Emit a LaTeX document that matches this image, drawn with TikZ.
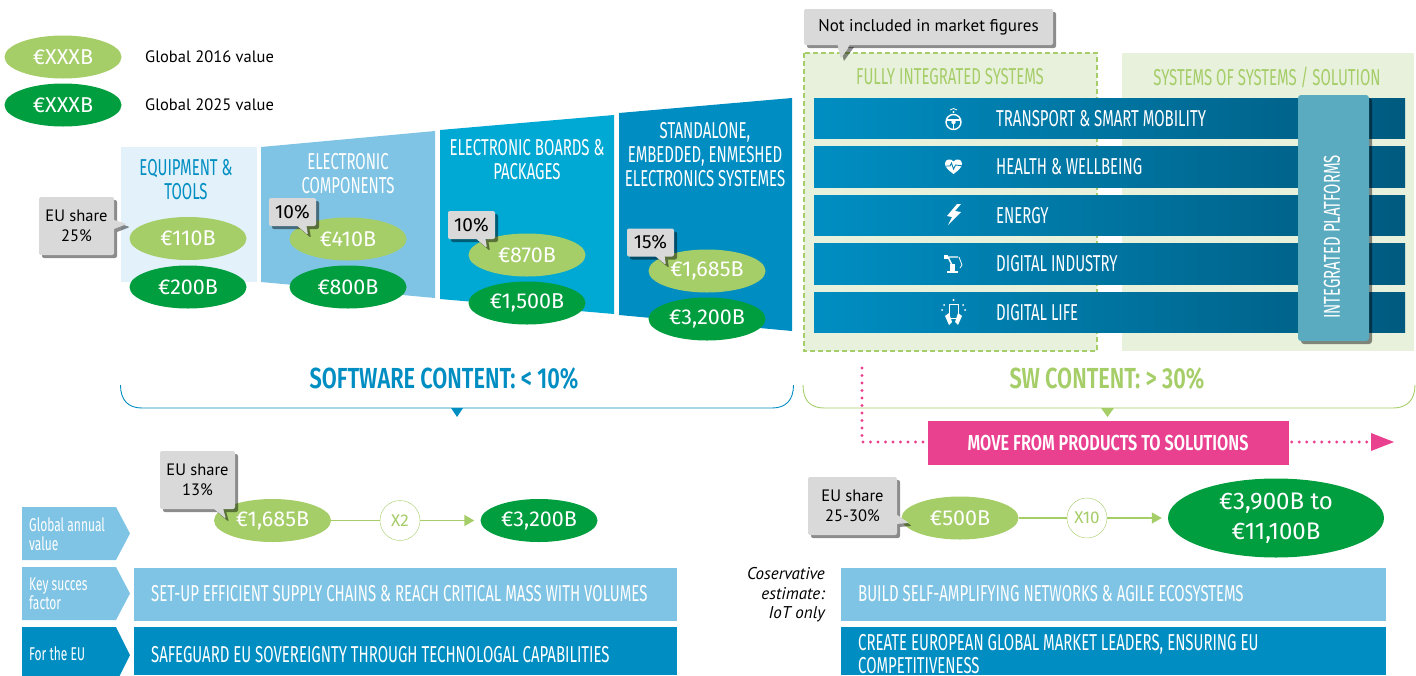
\documentclass[tikz,border=0pt]{standalone}
\usepackage{fontspec}
\usepackage{xcolor}
\usetikzlibrary{shapes.geometric, shapes.callouts, shadows, arrows.meta}
\setmainfont{PT Sans}
\newfontfamily\dinfont[FakeStretch=0.65]{Fira Sans}
\newfontfamily\dinbold[FakeStretch=0.75]{Fira Sans SemiBold}
\newfontfamily\valfont{Fira Sans}
\definecolor{oldgreen}{HTML}{A5CD68}
\definecolor{newgreen}{HTML}{009E3F}
\definecolor{paleblue}{HTML}{E3F1FA}
\definecolor{lightblue}{HTML}{7FC4E4}
\definecolor{midblue}{HTML}{00A9D4}
\definecolor{deepblue}{HTML}{008EC2}
\definecolor{darkblue}{HTML}{005A7F}
\definecolor{palegreen}{HTML}{E8F1DC}
\definecolor{platform}{HTML}{5BABC0}
\definecolor{notegray}{HTML}{D9D9D9}
\definecolor{movepink}{HTML}{EA4090}
\tikzset{
  valold/.style={ellipse, fill=oldgreen, text=white, minimum width=117pt, minimum height=43pt, inner sep=0pt, font=\valfont\fontsize{21.5}{26}\selectfont},
  valnew/.style={valold, fill=newgreen},
  softshadow/.style={drop shadow={shadow xshift=3pt, shadow yshift=-3pt, opacity=.45, fill=black}},
  notebox/.style={rectangle callout, fill=notegray, rounded corners=2pt, callout pointer width=9pt, inner sep=0pt, align=center, text=black, font=\fontsize{16.5}{20}\selectfont, softshadow},
  pctbox/.style={notebox, minimum width=47pt, minimum height=28pt, font=\valfont\fontsize{19}{20}\selectfont},
  plaintext/.style={anchor=west, inner sep=0pt, font=\fontsize{16.5}{20}\selectfont},
  headtext/.style={inner sep=0pt, align=center, text=white, yshift=-1pt, font=\dinfont\fontsize{23}{24}\selectfont},
  barlabel/.style={anchor=west, inner sep=0pt, align=left, text=white, yshift=-1pt, font=\dinfont\fontsize{23}{24}\selectfont},
  taglabel/.style={anchor=west, inner sep=0pt, align=left, text=white, font=\dinfont\fontsize{18.5}{19}\selectfont},
  timesnode/.style={circle, draw=oldgreen, fill=white, text=oldgreen, minimum size=40pt, inner sep=0pt, font=\valfont\fontsize{17}{20}\selectfont},
  flowline/.style={draw=oldgreen, line width=1.5pt},
  flowarrow/.style={flowline, -{Triangle[length=10pt,width=11pt]}, shorten >=6pt},
  moveline/.style={draw=movepink, line width=3.4pt, line cap=round, dash pattern=on 0pt off 7.5pt},
  iconline/.style={draw=white, line width=1.4pt},
}
\begin{document}
\begin{tikzpicture}[x=1pt,y=-1pt]
\useasboundingbox (0,0) rectangle (1416,675);

\node[valold] (legendold) at (63,57) {€XXXB};
\node[valnew] (legendnew) at (63,105) {€XXXB};
\node[plaintext] (legendoldtext) at (145,57) {Global 2016 value};
\node[plaintext] (legendnewtext) at (145,104.5) {Global 2025 value};

\fill[paleblue] (121,147) rectangle (257,282);
\fill[lightblue] (261,147) -- (435,131) -- (435,298) -- (261,282) -- cycle;
\fill[midblue] (440,130) -- (614,115) -- (614,314) -- (440,299) -- cycle;
\fill[deepblue] (619,113) -- (792,98) -- (792,331) -- (619,315) -- cycle;

\node[headtext, text=deepblue] (equiphead) at (186,179) {EQUIPMENT \&\\TOOLS};
\node[headtext] (comphead) at (348,173) {ELECTRONIC\\COMPONENTS};
\node[headtext] (boardhead) at (527,159) {ELECTRONIC BOARDS \&\\PACKAGES};
\node[headtext] (syshead) at (705,154) {STANDALONE,\\EMBEDDED, ENMESHED\\ELECTRONICS SYSTEMES};

\node[valold] (equipold) at (188,238.5) {€110B};
\node[valnew] (equipnew) at (188,287) {€200B};
\node[valold] (compold) at (348,239) {€410B};
\node[valnew] (compnew) at (348,287) {€800B};
\node[valold] (boardold) at (527,255) {€870B};
\node[valnew] (boardnew) at (527,303) {€1,500B};
\node[valold] (sysold) at (707,271) {€1,685B};
\node[valnew] (sysnew) at (707,319) {€3,200B};

\node[notebox, minimum width=75pt, minimum height=58pt, callout absolute pointer={(127,224)}] (equipnote) at (76.5,226) {EU share\\25\%};
\node[pctbox, callout absolute pointer={(308,235)}] (compnote) at (292.5,212) {10\%};
\node[pctbox, callout absolute pointer={(487,248)}] (boardnote) at (471.5,225) {10\%};
\node[pctbox, callout absolute pointer={(666,265)}] (sysnote) at (650.5,242.5) {15\%};

\fill[palegreen] (1122,53) rectangle (1414,351);
\draw[fill=palegreen, draw=oldgreen, line width=1.3pt, dash pattern=on 5pt off 3pt] (804,53) rectangle (1097,351);
\node[headtext, text=oldgreen] (fullyhead) at (950,76) {FULLY INTEGRATED SYSTEMS};
\node[headtext, text=oldgreen] (sossyshead) at (1267,76) {SYSTEMS OF SYSTEMS / SOLUTION};
\fill[notegray, softshadow] (837,44) -- (851,44) -- (841,58) -- cycle;
\node[fill=notegray, rounded corners=2pt, minimum width=249pt, minimum height=36pt, inner sep=0pt, font=\fontsize{17}{20}\selectfont, softshadow] (marketnote) at (928.5,27) {Not included in market figures};
\fill[notegray] (837,43) -- (851,43) -- (841,58) -- cycle;

\shade[left color=deepblue, right color=darkblue] (814,98) rectangle (1405,138);
\shade[left color=deepblue, right color=darkblue] (814,146) rectangle (1405,187);
\shade[left color=deepblue, right color=darkblue] (814,195) rectangle (1405,235);
\shade[left color=deepblue, right color=darkblue] (814,243) rectangle (1405,284);
\shade[left color=deepblue, right color=darkblue] (814,292) rectangle (1405,332);

\node[barlabel] (transport) at (996,118) {TRANSPORT \& SMART MOBILITY};
\node[barlabel] (health) at (996,166) {HEALTH \& WELLBEING};
\node[barlabel] (energy) at (996,215) {ENERGY};
\node[barlabel] (industry) at (996,263) {DIGITAL INDUSTRY};
\node[barlabel] (life) at (996,312) {DIGITAL LIFE};

\draw[iconline] (953.5,122) circle (7.5pt);
\fill[white] (953.5,122) circle (2.2pt);
\draw[iconline] (946.5,120) -- (960.5,120);
\draw[iconline] (953.5,122) -- (953.5,129);
\draw[draw=white, line width=.8pt] (950,110) .. controls (952,108) and (955,108) .. (957,110);
\fill[white] (953.5,112) circle (1.2pt);

\fill[white] (953.5,174) .. controls (948,170) and (945,167) .. (945,163.5) .. controls (945,159) and (951,158) .. (953.5,161.5) .. controls (956,158) and (962,159) .. (962,163.5) .. controls (962,167) and (959,170) .. cycle;
\draw[draw=deepblue!70!darkblue, line width=.9pt] (946,166) -- (950,166) -- (951.5,163) -- (953.5,169) -- (955.5,165) -- (964,166);

\fill[white] (957,204) -- (947,216) -- (952,217) -- (948,225) -- (961,212) -- (955,211) -- (961,204) -- cycle;

\fill[white] (947,271) rectangle (958,273);
\fill[white] (950,264) rectangle (955,271);
\draw[iconline] (952,265) -- (948,257) -- (958,257);
\fill[white] (944,255) rectangle (948,259);
\draw[draw=white, line width=.8pt] (959,257) -- (962,265) -- (960,268);

\draw[draw=white, line width=1pt] (949,304) rectangle (958,318);
\fill[white] (945,316) -- (949,313) -- (952,322) -- (949,325) -- cycle;
\fill[white] (962,316) -- (958,313) -- (955,322) -- (958,325) -- cycle;
\fill[white] (953.5,300) circle (1.2pt);
\fill[white] (942,310) circle (1pt);
\fill[white] (965,310) circle (1pt);
\fill[white] (944,305) circle (1pt);
\fill[white] (963,305) circle (1pt);

\node[fill=platform, rounded corners=3pt, minimum width=71pt, minimum height=246pt, inner sep=0pt, softshadow] (platformbar) at (1333.5,218) {};
\node[headtext, rotate=90, xshift=1pt, yshift=1pt] (platformtext) at (1333,237) {INTEGRATED PLATFORMS};

\node[inner sep=0pt, text=deepblue, font=\dinbold\fontsize{29}{30}\selectfont] (softhead) at (444,378.5) {SOFTWARE CONTENT: < 10\%};
\node[inner sep=0pt, text=oldgreen, font=\dinbold\fontsize{29}{30}\selectfont] (swhead) at (1107,378.5) {SW CONTENT: > 30\%};

\draw[deepblue, line width=.9pt] (120.5,385) .. controls (120.5,400) and (128,408) .. (142,408) -- (772,408) .. controls (786,408) and (793.5,400) .. (793.5,385);
\fill[deepblue] (451,408) -- (463,408) -- (457,417) -- cycle;
\draw[oldgreen, line width=.9pt] (803,385) .. controls (803,400) and (810,408) .. (824,408) -- (1393,408) .. controls (1407,408) and (1415,400) .. (1415,385);
\fill[oldgreen] (1101,408) -- (1114,408) -- (1107.5,417) -- cycle;

\node[fill=movepink, minimum width=361pt, minimum height=44pt, inner sep=0pt, text=white, font=\dinbold\fontsize{21.7}{24}\selectfont] (movebox) at (1108,443) {MOVE FROM PRODUCTS TO SOLUTIONS};
\coordinate (movestart) at (862,368);
\coordinate (movecorner) at (862,442);
\coordinate (moveend) at (1394,442);
\draw[moveline] (movestart) -- (movecorner) -- (movebox.west |- movecorner);
\draw[moveline] (movebox.east |- moveend) ++(3,0) -- ++(82,0);
\fill[movepink] (1371,433) -- (moveend) -- (1371,451) -- cycle;

\fill[lightblue] (22,507) -- (116,507) -- (130,533.5) -- (116,560) -- (22,560) -- cycle;
\fill[lightblue] (22,567) -- (116,567) -- (130,593.5) -- (116,620) -- (22,620) -- cycle;
\fill[deepblue] (22,627) -- (116,627) -- (130,655) -- (116,683) -- (22,683) -- cycle;
\node[taglabel] (annualtag) at (29,534) {Global annual\\value};
\node[taglabel] (succestag) at (29,594) {Key succes\\factor};
\node[taglabel] (eutag) at (29,654) {For the EU};

\node[valold] (lowold) at (272.5,520.5) {€1,685B};
\node[valnew] (lownew) at (539,520.5) {€3,200B};
\node[timesnode] (lowtimes) at (400,520.5) {X2};
\draw[flowline] (lowold) -- (lowtimes);
\draw[flowarrow] (lowtimes) -- (lownew);
\node[notebox, minimum width=75pt, minimum height=58pt, callout absolute pointer={(226,519)}] (lownote) at (197.5,480) {EU share\\13\%};

\fill[lightblue] (134,568) rectangle (677,621);
\fill[deepblue] (134,627) rectangle (677,675);
\node[barlabel] (chains) at (151,593) {SET-UP EFFICIENT SUPPLY CHAINS \& REACH CRITICAL MASS WITH VOLUMES};
\node[barlabel] (sovereign) at (151,654) {SAFEGUARD EU SOVEREIGNTY THROUGH TECHNOLOGAL CAPABILITIES};

\node[valold] (highold) at (960,518) {€500B};
\node[valnew, minimum width=216pt, minimum height=79pt, font=\valfont\fontsize{24}{30}\selectfont, align=center] (highnew) at (1276,518) {€3,900B to\\€11,100B};
\node[timesnode] (hightimes) at (1087,518) {X10};
\draw[flowline] (highold) -- (hightimes);
\draw[flowarrow] (hightimes) -- (highnew);
\node[notebox, minimum width=89pt, minimum height=58pt, callout absolute pointer={(909,523)}] (highnote) at (852.5,506) {EU share\\25-30\%};

\node[anchor=east, inner sep=0pt, align=right, font=\itshape\fontsize{17}{19.5}\selectfont] (estimate) at (825,595) {Coservative\\estimate:\\IoT only};
\fill[lightblue] (841,568) rectangle (1386,621);
\fill[deepblue] (841,627) rectangle (1386,675);
\node[barlabel] (networks) at (858,593) {BUILD SELF-AMPLIFYING NETWORKS \& AGILE ECOSYSTEMS};
\node[barlabel, font=\dinfont\fontsize{23}{22.5}\selectfont] (leaders) at (858,653) {CREATE EUROPEAN GLOBAL MARKET LEADERS, ENSURING EU\\COMPETITIVENESS};
\end{tikzpicture}
\end{document}
